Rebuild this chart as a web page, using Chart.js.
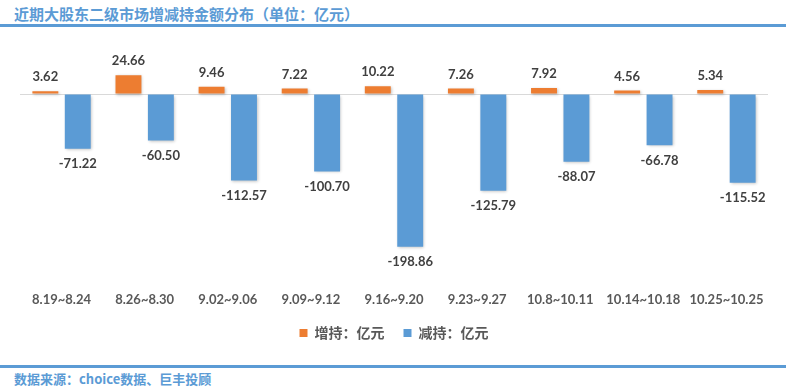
<!DOCTYPE html>
<html>
<head>
<meta charset="utf-8">
<script src="https://cdn.jsdelivr.net/npm/chart.js@4"></script>
<style>
  body { margin: 0; background: #fff; }
  #wrap { position: relative; width: 786px; height: 390px; overflow: hidden; }
  .title {
    position: absolute; left: 14px; top: 3px;
    font: bold 15px "Noto Sans CJK SC", sans-serif; color: #5b9bd5;
  }
  .line { position: absolute; left: 0; width: 786px; height: 3px; background: #5b9bd5; }
  .foot {
    position: absolute; left: 14px; top: 369px;
    font: bold 13px "Noto Sans CJK SC", sans-serif; color: #5b9bd5;
  }
  #box { position: absolute; left: 0; top: 30px; width: 786px; height: 320px; }
</style>
</head>
<body>
<div id="wrap">
  <div class="title">近期大股东二级市场增减持金额分布（单位：亿元）</div>
  <div class="line" style="top:24px"></div>
  <div id="box"><canvas id="c"></canvas></div>
  <div class="line" style="top:365px"></div>
  <div class="foot">数据来源：choice数据、巨丰投顾</div>
</div>
<script>
(function () {
  'use strict';

  var periods = ['8.19~8.24', '8.26~8.30', '9.02~9.06', '9.09~9.12', '9.16~9.20',
    '9.23~9.27', '10.8~10.11', '10.14~10.18', '10.25~10.25'];
  var increase = [3.62, 24.66, 9.46, 7.22, 10.22, 7.26, 7.92, 4.56, 5.34];
  var decrease = [-71.22, -60.50, -112.57, -100.70, -198.86, -125.79, -88.07, -66.78, -115.52];

  var labelPlugin = {
    id: 'valueLabels',
    beforeDatasetsDraw: function (chart) {
      var ctx = chart.ctx;
      ctx.save();
      ctx.shadowColor = 'rgba(0,0,0,0.25)';
      ctx.shadowBlur = 3;
      ctx.shadowOffsetX = 1;
      ctx.shadowOffsetY = 1;
    },
    afterDatasetsDraw: function (chart) {
      var ctx = chart.ctx;
      ctx.restore();
      ctx.save();
      ctx.font = 'bold 13px Lato, sans-serif';
      ctx.fillStyle = '#404040';
      ctx.textAlign = 'center';
      ctx.textBaseline = 'middle';
      chart.data.datasets.forEach(function (ds, i) {
        chart.getDatasetMeta(i).data.forEach(function (bar, j) {
          var v = ds.data[j];
          var y = v >= 0 ? bar.y - 14 : bar.y + 15;
          ctx.fillText(v.toFixed(2), bar.x, y);
        });
      });
      ctx.restore();
    }
  };

  new Chart(document.getElementById('c'), {
    type: 'bar',
    data: {
      labels: periods,
      datasets: [
        { label: '增持：亿元', data: increase, backgroundColor: '#ed7d31' },
        { label: '减持：亿元', data: decrease, backgroundColor: '#5b9bd5' }
      ]
    },
    options: {
      responsive: true,
      maintainAspectRatio: false,
      animation: false,
      layout: { padding: { left: 20, right: 18, top: 18, bottom: 0 } },
      datasets: { bar: { categoryPercentage: 0.78, barPercentage: 0.8 } },
      scales: {
        x: {
          grid: { display: false },
          border: { display: false },
          ticks: {
            color: '#595959',
            font: { family: 'Lato, sans-serif', weight: 'bold', size: 13 },
            padding: 6,
            maxRotation: 0
          }
        },
        y: {
          min: -240,
          max: 60,
          ticks: { display: false, stepSize: 60 },
          border: { display: false },
          grid: {
            drawTicks: false,
            color: function (c) {
              return c.tick && c.tick.value === 0 ? '#d9d9d9' : 'rgba(0,0,0,0)';
            }
          }
        }
      },
      plugins: {
        tooltip: { enabled: false },
        legend: {
          position: 'bottom',
          labels: {
            boxWidth: 8,
            boxHeight: 8,
            padding: 12,
            color: '#595959',
            font: { family: '"Noto Sans CJK SC", sans-serif', weight: 'bold', size: 14 },
            generateLabels: function (chart) {
              var items = Chart.defaults.plugins.legend.labels.generateLabels(chart);
              items[0].text += '\u2002';
              return items;
            }
          }
        }
      }
    },
    plugins: [labelPlugin]
  });
})();
</script>
</body>
</html>
